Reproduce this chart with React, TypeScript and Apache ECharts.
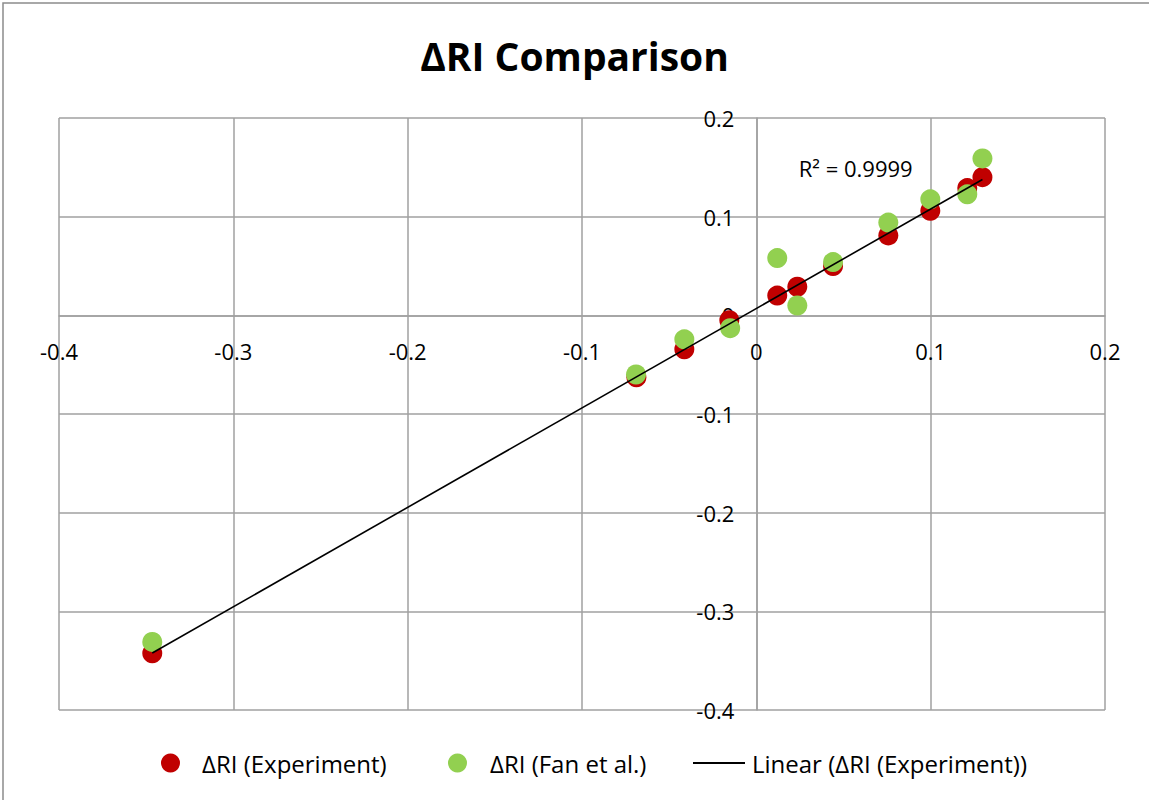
import React, { useEffect, useRef } from "react";
import * as echarts from "echarts";

const expX = [-0.3465, -0.0688, -0.0413, -0.0155, 0.012, 0.0235, 0.044, 0.0757, 0.0998, 0.121, 0.1297];
const expY = [-0.3426, -0.0628, -0.0345, -0.005, 0.02, 0.029, 0.05, 0.081, 0.106, 0.129, 0.14];
const fanX = [-0.3465, -0.069, -0.0413, -0.015, 0.012, 0.0235, 0.044, 0.0757, 0.0998, 0.121, 0.1297];
const fanY = [-0.331, -0.06, -0.0243, -0.013, 0.058, 0.01, 0.054, 0.094, 0.1176, 0.1226, 0.159];
const axisMin = -0.4;
const axisMax = 0.2;
const axisStep = 0.1;
const r2Label = "R² = 0.9999";
const r2Pos = [0.057, 0.149];
const titleText = "ΔRI Comparison";
const nameExp = "ΔRI (Experiment)";
const nameFan = "ΔRI (Fan et al.)";
const nameLin = "Linear (ΔRI (Experiment))";

function fit(xs: number[], ys: number[]) {
  const n = xs.length;
  const mx = xs.reduce((a, b) => a + b, 0) / n;
  const my = ys.reduce((a, b) => a + b, 0) / n;
  let sxy = 0, sxx = 0;
  for (let i = 0; i < n; i++) {
    sxy += (xs[i] - mx) * (ys[i] - my);
    sxx += (xs[i] - mx) ** 2;
  }
  const b = sxy / sxx;
  return { b, a: my - b * mx };
}

export default function App() {
  const ref = useRef<HTMLDivElement>(null);
  useEffect(() => {
    if (!ref.current) return;
    const chart = echarts.init(ref.current, undefined, { renderer: "svg" });
    const { a, b } = fit(expX, expY);
    const xmin = Math.min(...expX);
    const xmax = Math.max(...expX);
    const font = "'Open Sans', sans-serif";
    const fmt = (v: number) => String(Math.round(v * 10) / 10);

    const W = 1149, H = 800;
    const gl = 59, gr = 44, gt = 118, gb = 90;
    const pw = W - gl - gr, ph = H - gt - gb;
    // pixel offsets so the axes cross at zero
    const xAxisOffset = -((0 - axisMin) / (axisMax - axisMin)) * ph;
    const yAxisOffset = -((0 - axisMin) / (axisMax - axisMin)) * pw;

    const gridLine = { show: true, lineStyle: { color: "#a0a0a0", width: 1.5 } };
    chart.setOption({
      animation: false,
      backgroundColor: "#fff",
      textStyle: { fontFamily: font },
      title: {
        text: titleText,
        left: "center",
        top: 31,
        textStyle: { fontSize: 39, fontWeight: "bold", color: "#000", fontFamily: font },
      },
      graphic: [
        {
          type: "rect",
          shape: { x: 3, y: 3, width: 1300, height: 1000 },
          style: { fill: "none", stroke: "#8c8c8c", lineWidth: 1.5 },
          silent: true,
        },
      ],
      grid: { left: gl, right: gr, top: gt, bottom: gb, containLabel: false },
      xAxis: {
        type: "value",
        min: axisMin,
        max: axisMax,
        interval: axisStep,
        position: "bottom",
        offset: xAxisOffset,
        axisLine: { onZero: false, lineStyle: { color: "#a0a0a0", width: 1.5 } },
        axisTick: { show: false },
        axisLabel: { formatter: fmt, fontSize: 22, color: "#000", margin: 25, fontFamily: font },
        splitLine: gridLine,
      },
      yAxis: {
        type: "value",
        min: axisMin,
        max: axisMax,
        interval: axisStep,
        position: "left",
        offset: yAxisOffset,
        axisLine: { onZero: false, lineStyle: { color: "#a0a0a0", width: 1.5 } },
        axisTick: { show: false },
        axisLabel: { formatter: fmt, fontSize: 22, color: "#000", margin: 22, fontFamily: font },
        splitLine: gridLine,
      },
      legend: [
        {
          data: [{ name: nameExp, icon: "circle" }],
          left: 161, top: 751, padding: 0, itemWidth: 19, itemHeight: 19, itemGap: 0,
          textStyle: { fontSize: 24, color: "#000", fontFamily: font, padding: [0, 0, 0, 17] },
        },
        {
          data: [{ name: nameFan, icon: "circle" }],
          left: 448, top: 751, padding: 0, itemWidth: 19, itemHeight: 19, itemGap: 0,
          textStyle: { fontSize: 24, color: "#000", fontFamily: font, padding: [0, 0, 0, 18] },
        },
        {
          data: [{ name: nameLin, icon: "path://M0,0h52v2h-52z" }],
          left: 693, top: 751, padding: 0, itemWidth: 52, itemHeight: 19, itemGap: 0,
          textStyle: { fontSize: 24, color: "#000", fontFamily: font, padding: [0, 0, 0, 2] },
        },
      ],
      series: [
        {
          name: nameExp,
          type: "scatter",
          symbol: "circle",
          symbolSize: 20,
          itemStyle: { color: "#C00000", opacity: 1 },
          data: expX.map((x, i) => [x, expY[i]]),
          z: 2,
        },
        {
          name: nameFan,
          type: "scatter",
          symbol: "circle",
          symbolSize: 20,
          itemStyle: { color: "#92D050", opacity: 1 },
          data: fanX.map((x, i) => [x, fanY[i]]),
          z: 3,
        },
        {
          name: nameLin,
          type: "line",
          showSymbol: false,
          symbol: "none",
          lineStyle: { color: "#000", width: 1.6 },
          itemStyle: { color: "#000" },
          data: [
            [xmin, a + b * xmin],
            [xmax, a + b * xmax],
          ],
          z: 4,
          markPoint: {
            symbol: "circle",
            symbolSize: 0,
            label: { show: true, formatter: r2Label, fontSize: 22, color: "#000", fontFamily: font },
            data: [{ coord: r2Pos }],
          },
        },
      ],
    });
    return () => chart.dispose();
  }, []);
  return (
    <div
      ref={ref}
      style={{ position: "absolute", left: 0, top: 0, width: 1149, height: 800 }}
    />
  );
}
